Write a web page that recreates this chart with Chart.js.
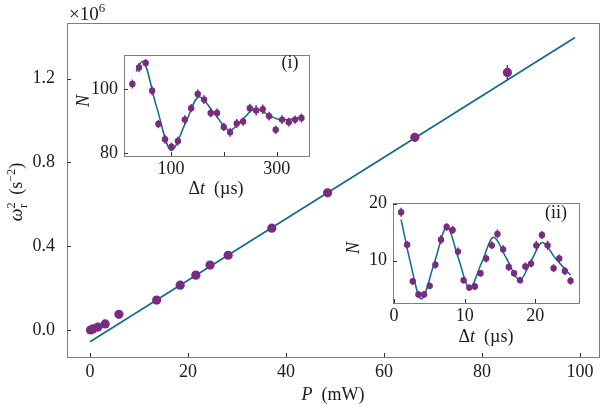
<!DOCTYPE html>
<html>
<head>
<meta charset="utf-8">
<script src="https://cdn.jsdelivr.net/npm/chart.js@4.4.0/dist/chart.umd.min.js"></script>
<style>
  body { margin: 0; background: #fff; }
  #wrap { position: relative; width: 606px; height: 406px; font-family: "Liberation Serif", serif; color: #1a1a1a; }
  canvas { position: absolute; }
  .lbl { position: absolute; font-size: 18px; white-space: nowrap; line-height: 1; transform: translate(-50%, -50%); }
  .rot { transform: translate(-50%, -50%) rotate(-90deg); }
  sup, sub { font-size: 68%; line-height: 0; }
  i { font-style: italic; }
</style>
</head>
<body>
<div id="wrap">
  <canvas id="principal" width="606" height="406" style="left:0;top:0"></canvas>
  <canvas id="inset1" width="245" height="165" style="left:70px;top:38px"></canvas>
  <canvas id="inset2" width="245" height="160" style="left:340px;top:186px"></canvas>

  <div class="lbl" style="left:87px;top:13px;font-size:19px">&times;10<sup>6</sup></div>
  <div class="lbl rot" style="left:16px;top:192px"><i>&omega;</i><sup>2</sup><sub style="margin-left:-0.45em">r</sub>&nbsp;&nbsp;(s<sup>&minus;2</sup>)</div>
  <div class="lbl" style="left:333px;top:394px"><i>P</i>&nbsp;&nbsp;(mW)</div>

  <div class="lbl rot" style="left:83px;top:101px"><i>N</i></div>
  <div class="lbl" style="left:216px;top:188px">&Delta;<i>t</i>&nbsp;&nbsp;(&micro;s)</div>
  <div class="lbl" style="left:290px;top:62px">(i)</div>

  <div class="lbl rot" style="left:353px;top:248px"><i>N</i></div>
  <div class="lbl" style="left:486px;top:336px">&Delta;<i>t</i>&nbsp;&nbsp;(&micro;s)</div>
  <div class="lbl" style="left:556px;top:212px">(ii)</div>
</div>

<script>
// datos principales: potencia (mW) y omega_r^2 (en unidades de 1e6 s^-2)
const potencia = [0.1, 0.6, 1.6, 3.1, 5.9, 13.6, 18.4, 21.6, 24.5, 28.2, 37.1, 48.5, 66.3, 85.2];
const omega2 = [0.0, 0.005, 0.014, 0.029, 0.075, 0.143, 0.214, 0.262, 0.31, 0.357, 0.486, 0.655, 0.92, 1.23];
const omega2Err = [0.005, 0.005, 0.005, 0.006, 0.008, 0.01, 0.01, 0.01, 0.01, 0.012, 0.012, 0.015, 0.022, 0.035];
// recta de ajuste
const ajusteP = [0, 99];
const ajusteOmega = [-0.056, 1.397];
const ticksPrincipalX = [0, 20, 40, 60, 80, 100];
const ticksPrincipalY = [0, 0.4, 0.8, 1.2];

// inset (i)
const tiempo1 = [26.8, 39.4, 52, 64.3, 76, 88.6, 100.8, 113, 126, 138, 150.5, 162.5, 175, 187, 199.7, 211.7, 224.3, 236.3, 249, 261, 273.5, 285.5, 298, 310, 322.7, 334.7, 346.7];
const N1 = [101.7, 106.9, 108.3, 99.6, 89.1, 84.3, 82.0, 83.75, 90.5, 94.1, 98.6, 96.8, 92.6, 92.6, 88.2, 86.5, 89.3, 89.9, 94.1, 93.4, 93.75, 91.6, 87.3, 90.5, 89.7, 90.5, 91.0];
const N1Err = [1.4, 1.5, 1.3, 1.4, 1.3, 1.4, 1.3, 1.4, 1.4, 1.3, 1.4, 1.4, 1.4, 1.4, 1.3, 1.4, 1.4, 1.3, 1.4, 1.6, 1.5, 1.4, 1.3, 1.4, 1.4, 1.3, 1.4];
const curvaT1 = [34, 46, 72, 100.5, 127, 153, 182, 211, 235, 259, 283.5, 308, 345];
const curvaN1 = [105.6, 108.9, 94.9, 80.8, 89.3, 97.7, 92.4, 87.1, 90.5, 93.9, 92.1, 90.4, 91.0];
const ticksInset1X = [100, 200, 300];
const etiquetasInset1X = [100, 300];
const ticksInset1Y = [80, 100];

// inset (ii)
const tiempo2 = [1.0, 1.85, 2.65, 3.45, 4.25, 5.05, 5.85, 6.65, 7.45, 8.3, 9.05, 9.85, 10.65, 11.45, 12.25, 13.05, 13.85, 14.65, 15.45, 16.25, 17.0, 17.85, 18.6, 19.4, 20.15, 20.95, 21.75, 22.6, 23.4, 24.2, 25.0];
const N2 = [18.5, 12.8, 6.4, 4.1, 4.1, 5.6, 9.3, 13.7, 15.9, 15.4, 11.6, 6.6, 5.3, 5.5, 7.8, 10.4, 12.7, 14.7, 12.0, 8.9, 7.8, 6.6, 9.0, 9.5, 12.7, 14.5, 12.7, 8.7, 10.4, 8.2, 6.5];
const N2Err = [0.8, 0.7, 0.6, 0.6, 0.6, 0.6, 0.7, 0.8, 0.7, 0.7, 0.7, 0.6, 0.6, 0.6, 0.6, 0.7, 0.7, 0.8, 0.7, 0.7, 0.6, 0.6, 0.7, 0.7, 0.8, 0.7, 0.8, 0.7, 0.7, 0.7, 0.7];
const curvaT2 = [1.0, 2.2, 3.86, 5.7, 7.5, 9.1, 10.7, 12.4, 14.1, 15.95, 17.8, 19.4, 21.0, 22.9, 25.0];
const curvaN2 = [17.2, 10.3, 3.3, 9.6, 15.9, 10.5, 5.2, 9.65, 14.1, 10.35, 6.6, 9.9, 13.2, 10.35, 7.5];
const ticksInset2X = [0, 10, 20];
const ticksInset2Y = [10, 20];

const morado = '#7a2b80';
const azul = '#0b6b8f';
const gris = '#7d7d7d';

Chart.defaults.font.family = '"Liberation Serif", serif';
Chart.defaults.font.size = 18;
Chart.defaults.color = '#1a1a1a';

// fondo blanco, marco completo y ticks hacia dentro
const marco = {
  id: 'marco',
  beforeDraw(chart) {
    const a = chart.chartArea, ctx = chart.ctx;
    ctx.save();
    ctx.fillStyle = '#fff';
    ctx.fillRect(a.left, a.top, a.right - a.left, a.bottom - a.top);
    ctx.restore();
  },
  afterDraw(chart) {
    const a = chart.chartArea, ctx = chart.ctx;
    ctx.save();
    ctx.strokeStyle = gris;
    ctx.lineWidth = 1;
    ctx.strokeRect(Math.round(a.left) + 0.5, Math.round(a.top) + 0.5, Math.round(a.right - a.left), Math.round(a.bottom - a.top));
    ctx.strokeStyle = '#333';
    chart.scales.x.ticks.forEach(t => {
      const px = Math.round(chart.scales.x.getPixelForValue(t.value)) + 0.5;
      ctx.beginPath(); ctx.moveTo(px, a.bottom); ctx.lineTo(px, a.bottom - 4); ctx.stroke();
    });
    chart.scales.y.ticks.forEach(t => {
      const py = Math.round(chart.scales.y.getPixelForValue(t.value)) + 0.5;
      ctx.beginPath(); ctx.moveTo(a.left, py); ctx.lineTo(a.left + 4, py); ctx.stroke();
    });
    ctx.restore();
  }
};

// barras de error verticales
const barrasError = {
  id: 'barrasError',
  beforeDatasetDraw(chart, args) {
    const ds = chart.data.datasets[args.index];
    if (!ds.err) return;
    const ctx = chart.ctx, ys = chart.scales.y;
    ctx.save();
    ctx.strokeStyle = ds.backgroundColor;
    ctx.lineWidth = 1.5;
    args.meta.data.forEach((pt, i) => {
      const v = ds.data[i].y, e = ds.err[i];
      ctx.beginPath();
      ctx.moveTo(pt.x, ys.getPixelForValue(v - e));
      ctx.lineTo(pt.x, ys.getPixelForValue(v + e));
      ctx.stroke();
    });
    ctx.restore();
  }
};

function puntos(xs, ys) {
  return xs.map((x, i) => ({ x: x, y: ys[i] }));
}

function opciones(c) {
  return {
    responsive: false,
    animation: false,
    events: [],
    layout: { padding: c.padding },
    plugins: { legend: { display: false }, tooltip: { enabled: false } },
    scales: {
      x: {
        type: 'linear', min: c.xmin, max: c.xmax,
        grid: { display: false, drawTicks: false },
        border: { display: false },
        afterBuildTicks: s => { s.ticks = c.xticks.map(v => ({ value: v })); },
        afterFit: s => { s.height = c.altoX; },
        ticks: { padding: c.padX, maxRotation: 0, callback: c.fmtX }
      },
      y: {
        type: 'linear', min: c.ymin, max: c.ymax,
        grid: { display: false, drawTicks: false },
        border: { display: false },
        afterBuildTicks: s => { s.ticks = c.yticks.map(v => ({ value: v })); },
        afterFit: s => { s.width = c.anchoY; },
        ticks: { padding: c.padY, callback: c.fmtY }
      }
    }
  };
}

// grafico principal
new Chart(document.getElementById('principal'), {
  type: 'scatter',
  data: {
    datasets: [
      { label: 'datos', data: puntos(potencia, omega2), err: omega2Err, backgroundColor: morado, pointRadius: 4.6, borderWidth: 0, order: 0 },
      { label: 'ajuste', data: puntos(ajusteP, ajusteOmega), showLine: true, borderColor: azul, borderWidth: 1.6, pointRadius: 0, order: 1 }
    ]
  },
  options: opciones({
    padding: { top: 22, right: 7, left: 0, bottom: 0 },
    xmin: -4.7, xmax: 103.9, xticks: ticksPrincipalX, altoX: 49, padX: 4, fmtX: v => String(v),
    ymin: -0.129, ymax: 1.467, yticks: ticksPrincipalY, anchoY: 67, padY: 12, fmtY: v => v.toFixed(1)
  }),
  plugins: [marco, barrasError]
});

// inset (i)
new Chart(document.getElementById('inset1'), {
  type: 'scatter',
  data: {
    datasets: [
      { label: 'N', data: puntos(tiempo1, N1), err: N1Err, backgroundColor: morado, pointRadius: 3.2, borderWidth: 0, order: 0 },
      { label: 'ajuste', data: puntos(curvaT1, curvaN1), showLine: true, cubicInterpolationMode: 'monotone', borderColor: azul, borderWidth: 1.5, pointRadius: 0, order: 1 }
    ]
  },
  options: opciones({
    padding: { top: 8, right: 6, left: 0, bottom: 0 },
    xmin: 11, xmax: 361, xticks: ticksInset1X, altoX: 47, padX: 2, fmtX: v => etiquetasInset1X.includes(v) ? String(v) : '',
    ymin: 79.05, ymax: 110.9, yticks: ticksInset1Y, anchoY: 54, padY: 6, fmtY: v => String(v)
  }),
  plugins: [marco, barrasError]
});

// inset (ii)
new Chart(document.getElementById('inset2'), {
  type: 'scatter',
  data: {
    datasets: [
      { label: 'N', data: puntos(tiempo2, N2), err: N2Err, backgroundColor: morado, pointRadius: 3.2, borderWidth: 0, order: 0 },
      { label: 'ajuste', data: puntos(curvaT2, curvaN2), showLine: true, cubicInterpolationMode: 'monotone', borderColor: azul, borderWidth: 1.5, pointRadius: 0, order: 1 }
    ]
  },
  options: opciones({
    padding: { top: 7, right: 6, left: 0, bottom: 0 },
    xmin: -0.15, xmax: 26.2, xticks: ticksInset2X, altoX: 43, padX: 2, fmtX: v => String(v),
    ymin: 2.6, ymax: 20.15, yticks: ticksInset2Y, anchoY: 53, padY: 6, fmtY: v => String(v)
  }),
  plugins: [marco, barrasError]
});
</script>
</body>
</html>
